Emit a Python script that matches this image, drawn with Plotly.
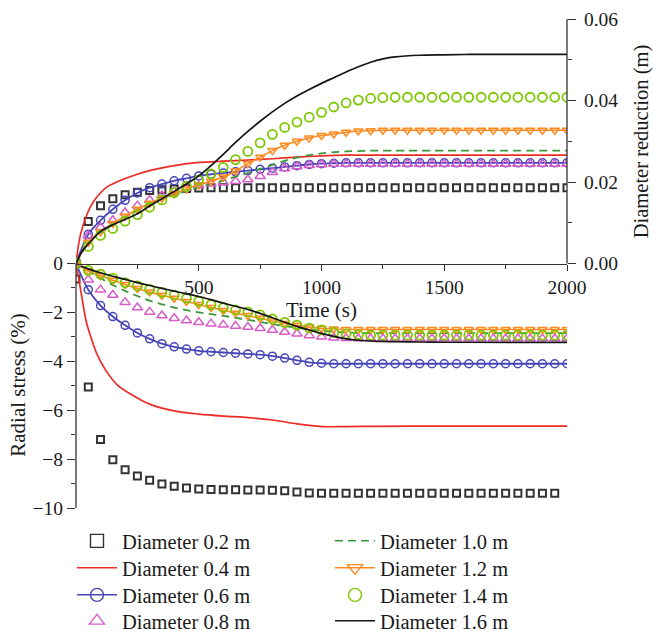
import plotly.graph_objects as go

# ---------------- data ----------------
time_s = [0, 50, 100, 150, 200, 250, 300, 350, 400, 450, 500, 550, 600, 650, 700,
          750, 800, 850, 900, 950, 1000, 1050, 1100, 1150, 1200, 1250, 1300, 1350,
          1400, 1450, 1500, 1550, 1600, 1650, 1700, 1750, 1800, 1850, 1900, 1950, 2000]

# Diameter reduction (m), right axis
dia02_up = [0, 0.0103, 0.0142, 0.0159, 0.0169, 0.0175, 0.0179, 0.0181, 0.0183, 0.0184,
            0.0185, 0.0186, 0.0186, 0.0186, 0.0186, 0.0186, 0.0186, 0.0186, 0.0186, 0.0186,
            0.0186, 0.0186, 0.0186, 0.0186, 0.0186, 0.0186, 0.0186, 0.0186, 0.0186, 0.0186,
            0.0186, 0.0186, 0.0186, 0.0186, 0.0186, 0.0186, 0.0186, 0.0186, 0.0186, 0.0186, 0.0186]
dia06_up = [0, 0.0072, 0.0106, 0.0133, 0.0155, 0.0173, 0.0186, 0.0195, 0.0203, 0.0209,
            0.0215, 0.0219, 0.0222, 0.0225, 0.0228, 0.0231, 0.0234, 0.0237, 0.0240, 0.0243,
            0.0245, 0.0246, 0.0247, 0.0247, 0.0247, 0.0247, 0.0247, 0.0247, 0.0247, 0.0247,
            0.0247, 0.0247, 0.0247, 0.0247, 0.0247, 0.0247, 0.0247, 0.0247, 0.0247, 0.0247, 0.0247]
dia08_up = [0, 0.0068, 0.0089, 0.0106, 0.0125, 0.0142, 0.0156, 0.0167, 0.0177, 0.0185,
            0.0191, 0.0196, 0.0199, 0.0202, 0.0206, 0.0214, 0.0224, 0.0233, 0.0238, 0.0241,
            0.0243, 0.0244, 0.0244, 0.0244, 0.0244, 0.0244, 0.0244, 0.0244, 0.0244, 0.0244,
            0.0244, 0.0244, 0.0244, 0.0244, 0.0244, 0.0244, 0.0244, 0.0244, 0.0244, 0.0244, 0.0244]
dia10_up = [0, 0.0050, 0.0075, 0.0095, 0.0113, 0.0130, 0.0145, 0.0158, 0.0169, 0.0178,
            0.0187, 0.0195, 0.0204, 0.0213, 0.0222, 0.0232, 0.0242, 0.0252, 0.0260, 0.0266,
            0.0270, 0.0273, 0.0275, 0.0276, 0.0277, 0.0277, 0.0277, 0.0277, 0.0277, 0.0277,
            0.0277, 0.0277, 0.0277, 0.0277, 0.0277, 0.0277, 0.0277, 0.0277, 0.0277, 0.0277, 0.0277]
dia12_up = [0, 0.0052, 0.0078, 0.0098, 0.0116, 0.0133, 0.0148, 0.0160, 0.0171, 0.0183,
            0.0193, 0.0202, 0.0212, 0.0227, 0.0245, 0.0261, 0.0277, 0.0290, 0.0300, 0.0308,
            0.0314, 0.0318, 0.0322, 0.0325, 0.0326, 0.0327, 0.0327, 0.0327, 0.0327, 0.0327,
            0.0327, 0.0327, 0.0327, 0.0327, 0.0327, 0.0327, 0.0327, 0.0327, 0.0327, 0.0327, 0.0327]
dia14_up = [0, 0.0042, 0.0069, 0.0086, 0.0104, 0.0120, 0.0138, 0.0156, 0.0174, 0.0189,
            0.0205, 0.0220, 0.0236, 0.0255, 0.0275, 0.0296, 0.0317, 0.0334, 0.0347, 0.0359,
            0.0371, 0.0384, 0.0394, 0.0401, 0.0405, 0.0407, 0.0408, 0.0408, 0.0408, 0.0408,
            0.0408, 0.0408, 0.0408, 0.0408, 0.0408, 0.0408, 0.0408, 0.0408, 0.0408, 0.0408, 0.0408]

# Radial stress (%), left axis
dia02_lo = [-0.63, -5.05, -7.20, -8.03, -8.44, -8.69, -8.86, -9.02, -9.11, -9.18,
            -9.22, -9.24, -9.25, -9.25, -9.26, -9.26, -9.27, -9.29, -9.35, -9.39,
            -9.40, -9.40, -9.40, -9.40, -9.40, -9.40, -9.40, -9.40, -9.40, -9.40,
            -9.40, -9.40, -9.40, -9.40, -9.40, -9.40, -9.40, -9.40, -9.40, -9.40, None]
dia06_lo = [0, -1.07, -1.72, -2.17, -2.53, -2.84, -3.08, -3.28, -3.41, -3.50,
            -3.57, -3.61, -3.64, -3.67, -3.70, -3.73, -3.79, -3.87, -3.96, -4.04,
            -4.08, -4.10, -4.10, -4.10, -4.10, -4.10, -4.10, -4.10, -4.10, -4.10,
            -4.10, -4.10, -4.10, -4.10, -4.10, -4.10, -4.10, -4.10, -4.10, -4.10, -4.10]
dia08_lo = [0, -0.66, -1.07, -1.29, -1.58, -1.80, -1.98, -2.13, -2.24, -2.33,
            -2.40, -2.46, -2.51, -2.56, -2.60, -2.65, -2.72, -2.80, -2.87, -2.94,
            -3.00, -3.04, -3.06, -3.07, -3.07, -3.07, -3.07, -3.07, -3.07, -3.07,
            -3.07, -3.07, -3.07, -3.07, -3.07, -3.07, -3.07, -3.07, -3.07, -3.07, -3.07]
dia10_lo = [0, -0.30, -0.60, -0.88, -1.12, -1.33, -1.52, -1.67, -1.80, -1.91,
            -2.00, -2.07, -2.14, -2.22, -2.30, -2.39, -2.48, -2.56, -2.63, -2.70,
            -2.75, -2.79, -2.82, -2.84, -2.85, -2.85, -2.85, -2.85, -2.85, -2.85,
            -2.85, -2.85, -2.85, -2.85, -2.85, -2.85, -2.85, -2.85, -2.85, -2.85, -2.85]
dia12_lo = [0, -0.30, -0.50, -0.68, -0.86, -1.02, -1.17, -1.30, -1.42, -1.55,
            -1.68, -1.80, -1.92, -2.03, -2.13, -2.24, -2.35, -2.45, -2.53, -2.60,
            -2.65, -2.68, -2.70, -2.70, -2.70, -2.70, -2.70, -2.70, -2.70, -2.70,
            -2.70, -2.70, -2.70, -2.70, -2.70, -2.70, -2.70, -2.70, -2.70, -2.70, -2.70]
dia14_lo = [0, -0.28, -0.44, -0.60, -0.78, -0.92, -1.06, -1.18, -1.29, -1.42,
            -1.55, -1.68, -1.80, -1.90, -1.98, -2.10, -2.27, -2.41, -2.52, -2.64,
            -2.72, -2.82, -2.88, -2.91, -2.93, -2.93, -2.93, -2.93, -2.93, -2.93,
            -2.93, -2.93, -2.93, -2.93, -2.93, -2.93, -2.93, -2.93, -2.93, -2.93, -2.93]

# solid-line series sampled more finely where they bend
red_time = [0, 10, 20, 40, 60, 85, 120, 170, 250, 300, 400, 500, 600, 700, 800, 900,
            1000, 1100, 1200, 1500, 2000]
dia04_up = [0, 0.0045, 0.0075, 0.0113, 0.0140, 0.0163, 0.0185, 0.0201, 0.0219, 0.0228,
            0.0240, 0.0248, 0.0251, 0.0254, 0.0257, 0.0261, 0.0264, 0.0266, 0.0266, 0.0266, 0.0266]
dia04_lo = [0, -0.55, -1.15, -2.30, -3.00, -3.70, -4.35, -4.98, -5.50, -5.75, -6.03,
            -6.16, -6.24, -6.30, -6.40, -6.56, -6.67, -6.67, -6.66, -6.65, -6.65]

black_time = [0, 25, 50, 100, 150, 200, 250, 300, 350, 400, 450, 500, 550, 600, 650, 700,
              750, 800, 850, 900, 950, 1000, 1050, 1100, 1150, 1200, 1250, 1300, 1400,
              1500, 1600, 2000]
dia16_up = [0, 0.0030, 0.0048, 0.0079, 0.0095, 0.0108, 0.0122, 0.0141, 0.0159, 0.0177,
            0.0195, 0.0215, 0.0240, 0.0268, 0.0297, 0.0324, 0.0349, 0.0372, 0.0393, 0.0411,
            0.0427, 0.0442, 0.0456, 0.0470, 0.0483, 0.0494, 0.0502, 0.0507, 0.0511, 0.0512,
            0.0513, 0.0513]
dia16_lo = [0, -0.12, -0.22, -0.38, -0.52, -0.65, -0.78, -0.90, -1.02, -1.13, -1.24,
            -1.35, -1.48, -1.62, -1.75, -1.88, -2.04, -2.22, -2.40, -2.57, -2.72, -2.86,
            -2.98, -3.08, -3.14, -3.17, -3.19, -3.20, -3.21, -3.22, -3.22, -3.23]

x_tick_vals = [500, 1000, 1500, 2000]
x_minor_vals = [250, 750, 1250, 1750]
stress_tick_vals = [-10, -8, -6, -4, -2, 0]
stress_tick_text = ["\u221210", "\u22128", "\u22126", "\u22124", "\u22122", "0"]
stress_minor_vals = [-9, -7, -5, -3, -1]
dr_tick_vals = [0, 0.02, 0.04, 0.06]
dr_tick_text = ["0.00", "0.02", "0.04", "0.06"]
dr_minor_vals = [0.01, 0.03, 0.05]

# ---------------- styles ----------------
FONT = "Liberation Serif"
AX = "#333333"
W, H = 653, 637
ML, MR, MT, MB = 76, 86, 19, 129
PW, PH = W - ML - MR, H - MT - MB

series = [
    dict(name="Diameter 0.2 m", t=time_s, up=dia02_up, lo=dia02_lo, col=0, row=0,
         mode="markers", marker=dict(symbol="square-open", size=7, color="#333333",
                                     line=dict(width=2, color="#333333"))),
    dict(name="Diameter 0.4 m", t=red_time, up=dia04_up, lo=dia04_lo, col=0, row=1,
         mode="lines", line=dict(color="#EE2B25", width=1.7, shape="spline", smoothing=0.8)),
    dict(name="Diameter 0.6 m", t=time_s, up=dia06_up, lo=dia06_lo, col=0, row=2,
         mode="lines+markers", line=dict(color="#4646B8", width=1.8, shape="spline", smoothing=0.8),
         marker=dict(symbol="circle-open", size=8, color="#4646B8", line=dict(width=1.5, color="#4646B8"))),
    dict(name="Diameter 0.8 m", t=time_s, up=dia08_up, lo=dia08_lo, col=0, row=3,
         mode="markers", marker=dict(symbol="triangle-up-open", size=9, color="#D75CC8",
                                     line=dict(width=1.5, color="#D75CC8"))),
    dict(name="Diameter 1.0 m", t=time_s, up=dia10_up, lo=dia10_lo, col=1, row=0,
         mode="lines", line=dict(color="#3A9A3A", width=1.8, dash="8px,5px", shape="spline", smoothing=0.8)),
    dict(name="Diameter 1.2 m", t=time_s, up=dia12_up, lo=dia12_lo, col=1, row=1,
         mode="lines+markers", line=dict(color="#FF8A1F", width=1.6, shape="spline", smoothing=0.8),
         marker=dict(symbol="triangle-down-open", size=8, color="#FF8A1F", line=dict(width=1.5, color="#FF8A1F"))),
    dict(name="Diameter 1.4 m", t=time_s, up=dia14_up, lo=dia14_lo, col=1, row=2,
         mode="markers", marker=dict(symbol="circle-open", size=9, color="#7DC800",
                                     line=dict(width=1.8, color="#7DC800"))),
    dict(name="Diameter 1.6 m", t=black_time, up=dia16_up, lo=dia16_lo, col=1, row=3,
         mode="lines", line=dict(color="#151515", width=1.7, shape="spline", smoothing=0.8)),
]

legend_text_x = [123, 381]          # px where the legend text starts, per column
legend_row_y = [541, 568, 595, 621]  # px centre of each legend row

fig = go.Figure()
legends = {}
for i, s in enumerate(series):
    common = dict(mode=s["mode"], name=s["name"], legendgroup=s["name"])
    if "line" in s:
        common["line"] = s["line"]
    if "marker" in s:
        common["marker"] = s["marker"]
    fig.add_trace(go.Scatter(x=s["t"], y=s["up"], yaxis="y2", showlegend=False, **common))
    fig.add_trace(go.Scatter(x=s["t"], y=s["lo"], yaxis="y", showlegend=False, **common))
    # legend-only entry with a larger symbol
    lkey = "legend" if i == 0 else f"legend{i + 1}"
    lc = dict(common)
    if "marker" in s:
        m = dict(s["marker"])
        m["size"] = 13
        m["line"] = dict(width=1.4, color=m["color"])
        lc["marker"] = m
    if "line" in s:
        ln = dict(s["line"])
        ln["width"] = 1.5
        ln.pop("shape", None)
        ln.pop("smoothing", None)
        lc["line"] = ln
    fig.add_trace(go.Scatter(x=[None], y=[None], showlegend=True, legend=lkey, **lc))
    lx = (legend_text_x[s["col"]] - 51 - ML) / PW
    ly = -(legend_row_y[s["row"]] - (MT + PH)) / PH
    legends[lkey] = dict(x=lx, y=ly, xanchor="left", yanchor="middle",
                         font=dict(family=FONT, size=20.5, color="#1a1a1a"),
                         bgcolor="rgba(0,0,0,0)", itemwidth=40, orientation="v")

tick_font = dict(family=FONT, size=19.5, color="#1a1a1a")

fig.update_layout(
    width=W, height=H,
    margin=dict(l=ML, r=MR, t=MT, b=MB, autoexpand=False),
    paper_bgcolor="white", plot_bgcolor="white",
    font=dict(family=FONT, size=20, color="#1a1a1a"),
    showlegend=True,
    xaxis=dict(range=[0, 2000], anchor="free", position=0.5, showline=True, linecolor=AX,
               linewidth=1.3, ticks="outside", ticklen=6, tickwidth=1.3, tickcolor=AX,
               tickmode="array", tickvals=x_tick_vals, tickfont=tick_font,
               minor=dict(tickmode="array", tickvals=x_minor_vals, ticks="outside", ticklen=4,
                          tickwidth=1.3, tickcolor=AX),
               showgrid=False, zeroline=False,
               title=dict(text="Time (s)", font=dict(family=FONT, size=21), standoff=2)),
    yaxis=dict(range=[-10, 10], showline=False, showgrid=False, zeroline=False,
               ticks="outside", ticklen=8, tickwidth=1.3, tickcolor=AX,
               tickmode="array", tickvals=stress_tick_vals, ticktext=stress_tick_text,
               tickfont=tick_font,
               minor=dict(tickmode="array", tickvals=stress_minor_vals, ticks="outside",
                          ticklen=4, tickwidth=1.3, tickcolor=AX)),
    yaxis2=dict(range=[-0.06, 0.06], overlaying="y", side="right", anchor="x",
                showline=False, showgrid=False, zeroline=False,
                ticks="outside", ticklen=8, tickwidth=1.3, tickcolor=AX,
                tickmode="array", tickvals=dr_tick_vals, ticktext=dr_tick_text,
                tickfont=tick_font, ticklabelstandoff=4,
                minor=dict(tickmode="array", tickvals=dr_minor_vals, ticks="outside",
                           ticklen=4, tickwidth=1.3, tickcolor=AX)),
    shapes=[
        dict(type="line", xref="paper", yref="y", x0=0, x1=0, y0=-10, y1=0,
             line=dict(color=AX, width=1.3)),
        dict(type="line", xref="paper", yref="y2", x0=1, x1=1, y0=0, y1=0.06,
             line=dict(color=AX, width=1.3)),
    ],
    annotations=[
        dict(text="Radial stress (%)", xref="paper", yref="y", x=(18 - ML) / PW, y=-5,
             textangle=-90, showarrow=False, xanchor="center", yanchor="middle",
             font=dict(family=FONT, size=21, color="#1a1a1a")),
        dict(text="Diameter reduction (m)", xref="paper", yref="y2", x=(641 - ML) / PW, y=0.03,
             textangle=-90, showarrow=False, xanchor="center", yanchor="middle",
             font=dict(family=FONT, size=20.5, color="#1a1a1a")),
    ],
    **legends,
)

fig.write_html("out.html")
